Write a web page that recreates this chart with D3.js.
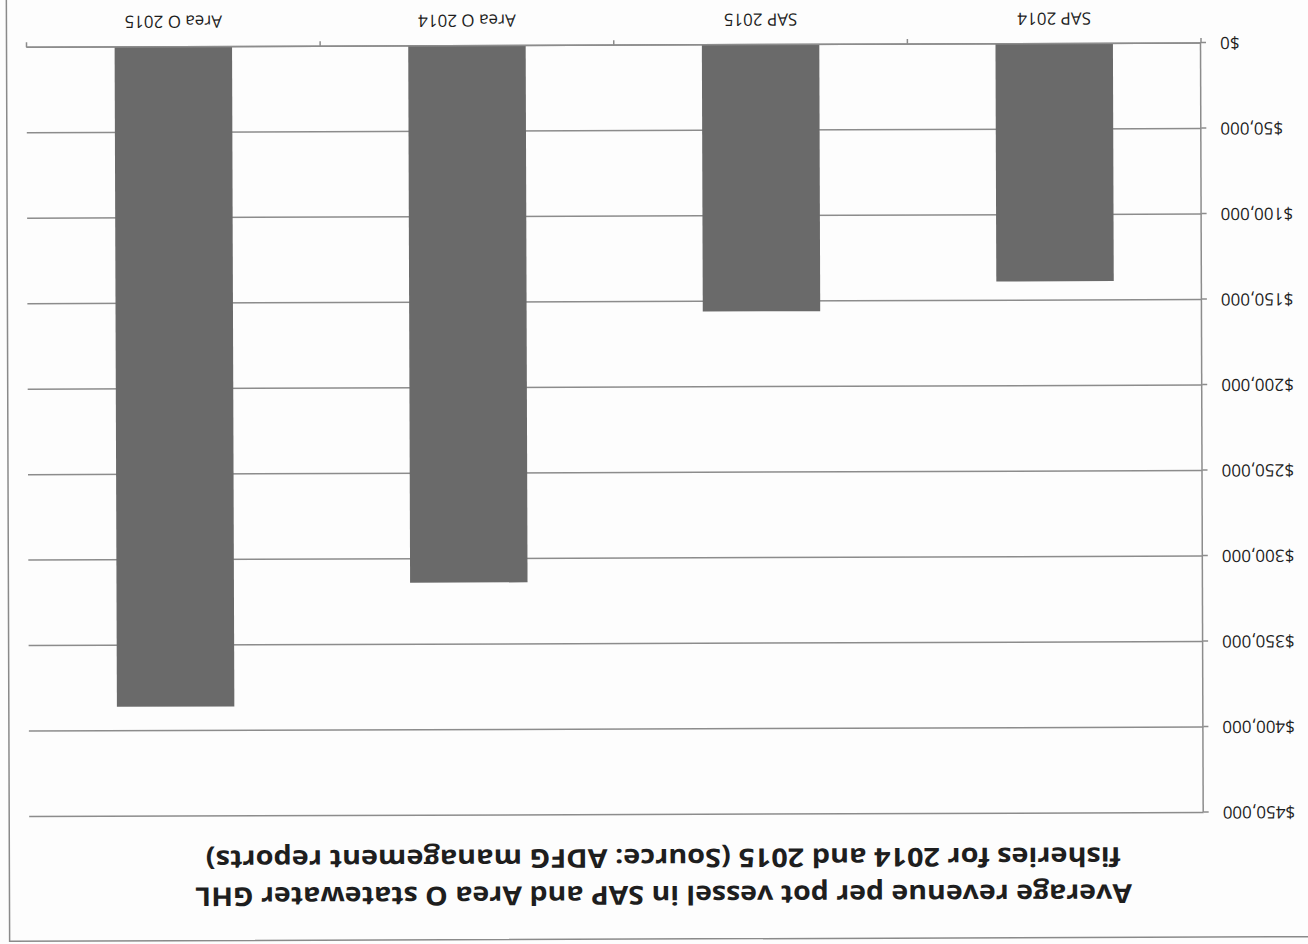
<!DOCTYPE html>
<html>
<head>
<meta charset="utf-8">
<script src="https://cdn.jsdelivr.net/npm/d3@7"></script>
<style>
  html, body { margin: 0; padding: 0; background: #fdfdfd; }
  svg { display: block; }
</style>
</head>
<body>
<svg id="chart" width="1308" height="944"></svg>
<script>
// ---- data ----
const categories = ["SAP 2014", "SAP 2015", "Area O 2014", "Area O 2015"];
const revenue = [139000, 156000, 314000, 386000];
const yTicks = [0, 50000, 100000, 150000, 200000, 250000, 300000, 350000, 400000, 450000];
const titleLines = [
  "Average revenue per pot vessel in SAP and Area O statewater GHL",
  "fisheries for 2014 and 2015 (Source: ADFG management reports)"
];

(function () {
const svg = d3.select("#chart");
// the reference picture is upside down (rotated ~180 degrees)
const root = svg.append("g").attr("transform", "rotate(179.8, 654, 472)");

root.append("rect")
  .attr("x", -20).attr("y", 5).attr("width", 1320).attr("height", 960)
  .attr("fill", "#fdfdfd").attr("stroke", "#8a8a8a").attr("stroke-width", 1.5);

const plotL = 105.5, plotR = 1280, plotT = 129.6, plotB = 899;

const x = d3.scaleBand().domain(categories).range([plotL, plotR])
  .paddingInner(0.6).paddingOuter(0.3);
const y = d3.scaleLinear().domain([0, 450000]).range([plotB, plotT]);

const gridColor = "#8c8c8c";
const textColor = "#1e1e1e";
const font = "'Open Sans', 'DejaVu Sans', sans-serif";

// gridlines
root.append("g").selectAll("line").data(yTicks).join("line")
  .attr("x1", plotL).attr("x2", plotR)
  .attr("y1", d => y(d)).attr("y2", d => y(d))
  .attr("stroke", gridColor).attr("stroke-width", 1.5);

// bars
root.append("g").selectAll("rect").data(categories).join("rect")
  .attr("x", d => x(d))
  .attr("width", x.bandwidth())
  .attr("y", (d, i) => y(revenue[i]))
  .attr("height", (d, i) => y(0) - y(revenue[i]))
  .attr("fill", "#6a6a6a");

// y axis
const yAxis = root.append("g").attr("transform", `translate(${plotL},0)`)
  .call(d3.axisLeft(y).tickValues(yTicks).tickSize(5).tickSizeOuter(0).tickPadding(14)
    .tickFormat(d => "$" + d3.format(",")(d)));
yAxis.select(".domain").attr("stroke", gridColor).attr("stroke-width", 1.5);
yAxis.selectAll(".tick line").attr("stroke", gridColor).attr("stroke-width", 1.5);
yAxis.selectAll(".tick text")
  .attr("fill", textColor).style("font-family", font).style("font-size", "17px");

// x axis: baseline, boundary ticks, labels
const boundaries = categories.map(c => x(c) - x.step() * x.paddingInner() / 2).concat([plotR]);
root.append("line")
  .attr("x1", plotL).attr("x2", plotR).attr("y1", y(0)).attr("y2", y(0))
  .attr("stroke", gridColor).attr("stroke-width", 1.5);
root.append("g").selectAll("line").data(boundaries).join("line")
  .attr("x1", d => d).attr("x2", d => d)
  .attr("y1", y(0)).attr("y2", y(0) + 5)
  .attr("stroke", gridColor).attr("stroke-width", 1.5);
root.append("g").selectAll("text").data(categories).join("text")
  .attr("x", d => x(d) + x.bandwidth() / 2)
  .attr("y", 930)
  .attr("text-anchor", "middle")
  .attr("fill", textColor)
  .style("font-family", font).style("font-size", "17px")
  .text(d => d);

// title
const titleBase = [58, 95];
const titleWidths = [937, 915];
root.append("g").selectAll("text").data(titleLines).join("text")
  .attr("x", 646)
  .attr("y", (d, i) => titleBase[i])
  .attr("text-anchor", "middle")
  .attr("fill", textColor)
  .attr("textLength", (d, i) => titleWidths[i])
  .attr("lengthAdjust", "spacingAndGlyphs")
  .style("font-family", font).style("font-weight", "bold").style("font-size", "26px")
  .text(d => d);
})();
</script>
</body>
</html>
